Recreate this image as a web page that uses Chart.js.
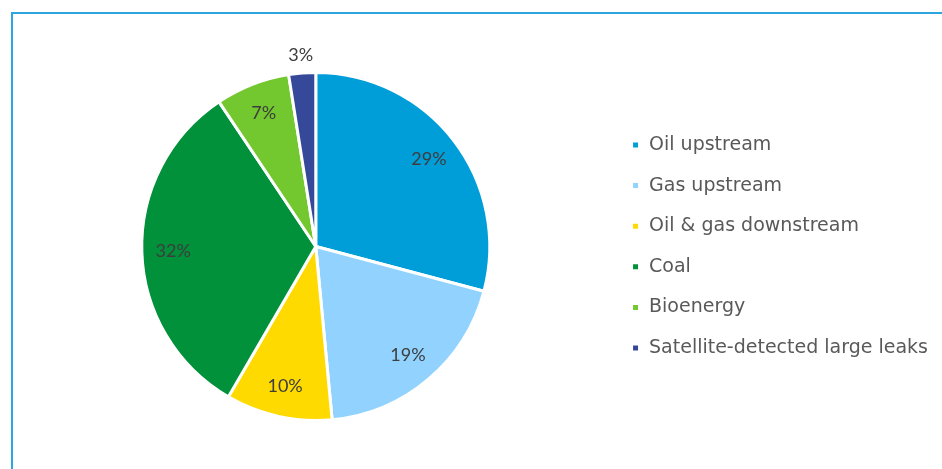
<!DOCTYPE html>
<html>
<head>
<meta charset="utf-8">
<script src="https://cdn.jsdelivr.net/npm/chart.js@4.4.1/dist/chart.umd.min.js"></script>
<style>
  html, body { margin: 0; padding: 0; background: #fff; overflow: hidden; }
  #frame {
    position: absolute; left: 11px; top: 12px; width: 1000px; height: 520px;
    border-left: 2px solid #2ba6de; border-top: 2px solid #2ba6de;
  }
  #wrap { position: absolute; left: 0; top: 0; width: 942px; height: 469px; }
</style>
</head>
<body>
<div id="frame"></div>
<div id="wrap"><canvas id="methaneChart" width="942" height="469"></canvas></div>
<script>
// Methane emissions by source (share, %)
const sources = [
  "Oil upstream",
  "Gas upstream",
  "Oil & gas downstream",
  "Coal",
  "Bioenergy",
  "Satellite-detected large leaks",
];
const shares = [29.2, 19.4, 9.9, 32.3, 6.9, 2.5];
const sliceColors = ["#009ed9", "#91d3fe", "#ffda00", "#00913a", "#72c82e", "#36489a"];

// Draw the percentage labels on (or just outside) each slice
const sliceLabels = {
  id: "sliceLabels",
  afterDatasetsDraw(chart) {
    const ctx = chart.ctx;
    const arcs = chart.getDatasetMeta(0).data;
    ctx.save();
    ctx.font = "18px Lato";
    ctx.fillStyle = "#3d3d3d";
    ctx.textAlign = "center";
    ctx.textBaseline = "middle";
    arcs.forEach((arc, i) => {
      const mid = (arc.startAngle + arc.endAngle) / 2;
      const value = shares[i];
      const r = value < 5 ? arc.outerRadius + 18 : arc.outerRadius * 0.82;
      const x = arc.x + Math.cos(mid) * r;
      const y = arc.y + Math.sin(mid) * r;
      ctx.fillText(Math.round(value) + "%", x, y);
    });
    ctx.restore();
  },
};

const ctx = document.getElementById("methaneChart").getContext("2d");
new Chart(ctx, {
  type: "pie",
  data: {
    labels: sources,
    datasets: [
      {
        data: shares,
        backgroundColor: sliceColors,
        borderColor: "#ffffff",
        borderWidth: 3,
      },
    ],
  },
  options: {
    responsive: false,
    animation: false,
    radius: 174,
    layout: {
      padding: { left: 21.6, right: 4, top: 52, bottom: 28 },
    },
    plugins: {
      tooltip: { enabled: false },
      legend: {
        position: "right",
        labels: {
          boxWidth: 8,
          boxHeight: 8,
          padding: 21.6,
          color: "#595959",
          font: { family: "DejaVu Sans", size: 19 },
        },
      },
    },
  },
  plugins: [sliceLabels],
});
</script>
</body>
</html>
